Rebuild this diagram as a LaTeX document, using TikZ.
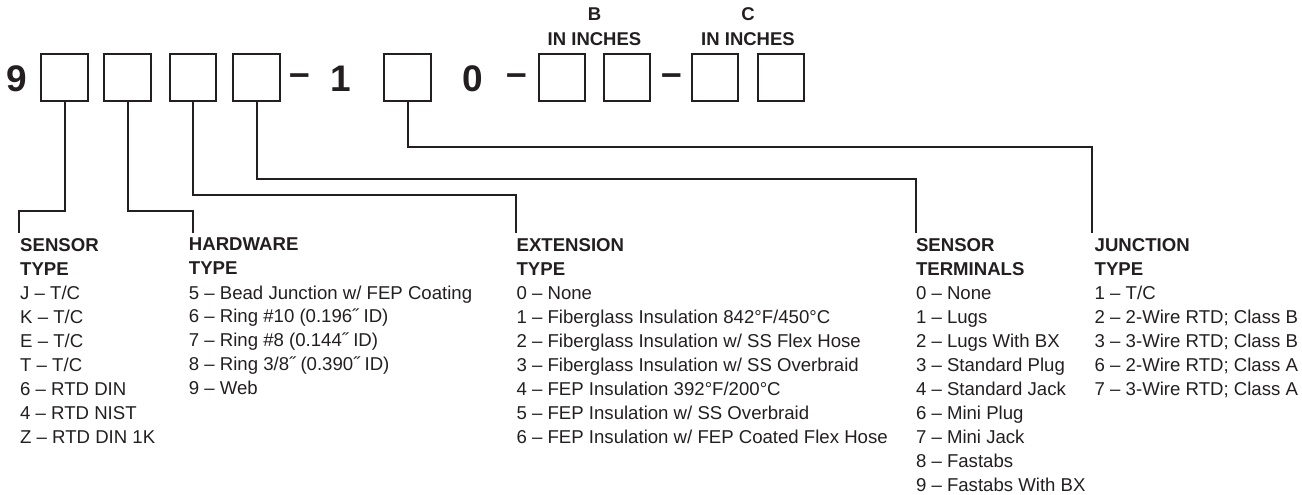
\documentclass[tikz,border=0pt]{standalone}
\usepackage{fontspec}
\setmainfont{Liberation Sans}
\usetikzlibrary{positioning}
\definecolor{ink}{RGB}{35,31,32}
\tikzset{digitbox/.style={rectangle,draw=ink,line width=2.4pt,minimum size=46.5pt,inner sep=0pt},bignum/.style={anchor=base,inner sep=0pt,text=ink,font=\fontsize{37}{40}\selectfont\bfseries},toplabel/.style={anchor=north,align=center,inner sep=0pt,text=ink,font=\fontsize{18.5}{24.8}\selectfont\bfseries},col/.style={anchor=north west,align=left,inner sep=0pt,text=ink,font=\fontsize{18.6}{24}\selectfont},lead/.style={draw=ink,line width=2pt}}

\begin{document}
\begin{tikzpicture}[x=1pt,y=-1pt]
\useasboundingbox (0,0) rectangle (1302,495);
% part number
\node[bignum] (nine) at (16.5,91.5) {9};
\node[digitbox] (sens) at (64.5,77.5) {};
\node[digitbox] (hw) at (127.5,77.5) {};
\node[digitbox] (ext) at (193,77.5) {};
\node[digitbox] (term) at (256.5,77.5) {};
\node[bignum] (dash1) at (299.5,85) {–};
\node[bignum] (one) at (341,91.5) {1};
\node[digitbox] (junc) at (407.5,77.5) {};
\node[bignum] (zero) at (473,91.5) {0};
\node[bignum] (dash2) at (516.5,85) {–};
\node[digitbox] (bA) at (562,77.5) {};
\node[digitbox] (bB) at (627,77.5) {};
\node[bignum] (dash3) at (671.5,85) {–};
\node[digitbox] (cA) at (715,77.5) {};
\node[digitbox] (cB) at (781,77.5) {};
\node[toplabel] (blab) at (594.5,7.5) {B\\IN INCHES};
\node[toplabel] (clab) at (748,7.5) {C\\IN INCHES};
% option lists
\node[col] (senstype) at (20,238) {\textbf{SENSOR}\\\textbf{TYPE}\\J – T/C\\K – T/C\\E – T/C\\T – T/C\\6 – RTD DIN\\4 – RTD NIST\\Z – RTD DIN 1K};
\node[col] (hwtype) at (188.7,238) {\textbf{HARDWARE}\\\textbf{TYPE}\\5 – Bead Junction w/ FEP Coating\\6 – Ring \#10 (0.196˝ ID)\\7 – Ring \#8 (0.144˝ ID)\\8 – Ring 3/8˝ (0.390˝ ID)\\9 – Web};
\node[col] (exttype) at (516.4,238) {\textbf{EXTENSION}\\\textbf{TYPE}\\0 – None\\1 – Fiberglass Insulation 842°F/450°C\\2 – Fiberglass Insulation w/ SS Flex Hose\\3 – Fiberglass Insulation w/ SS Overbraid\\4 – FEP Insulation 392°F/200°C\\5 – FEP Insulation w/ SS Overbraid\\6 – FEP Insulation w/ FEP Coated Flex Hose};
\node[col] (termtype) at (915.8,238) {\textbf{SENSOR}\\\textbf{TERMINALS}\\0 – None\\1 – Lugs\\2 – Lugs With BX\\3 – Standard Plug\\4 – Standard Jack\\6 – Mini Plug\\7 – Mini Jack\\8 – Fastabs\\9 – Fastabs With BX};
\node[col] (junctype) at (1094.5,238) {\textbf{JUNCTION}\\\textbf{TYPE}\\1 – T/C\\2 – 2-Wire RTD; Class B\\3 – 3-Wire RTD; Class B\\6 – 2-Wire RTD; Class A\\7 – 3-Wire RTD; Class A};
% leader lines
\coordinate (sensend) at (19,233);
\coordinate (hwend) at (193,233);
\coordinate (extend) at (516,233);
\coordinate (termend) at (916,233);
\coordinate (juncend) at (1092,233);
\draw[lead] (sens.south) -- ++(0,109) -| (sensend);
\draw[lead] (hw.south) -- ++(0,109) -| (hwend);
\draw[lead] (ext.south) -- ++(0,93) -| (extend);
\draw[lead] (term.south) -- ++(0,77) -| (termend);
\draw[lead] (junc.south) -- ++(0,45) -| (juncend);
\end{tikzpicture}
\end{document}
